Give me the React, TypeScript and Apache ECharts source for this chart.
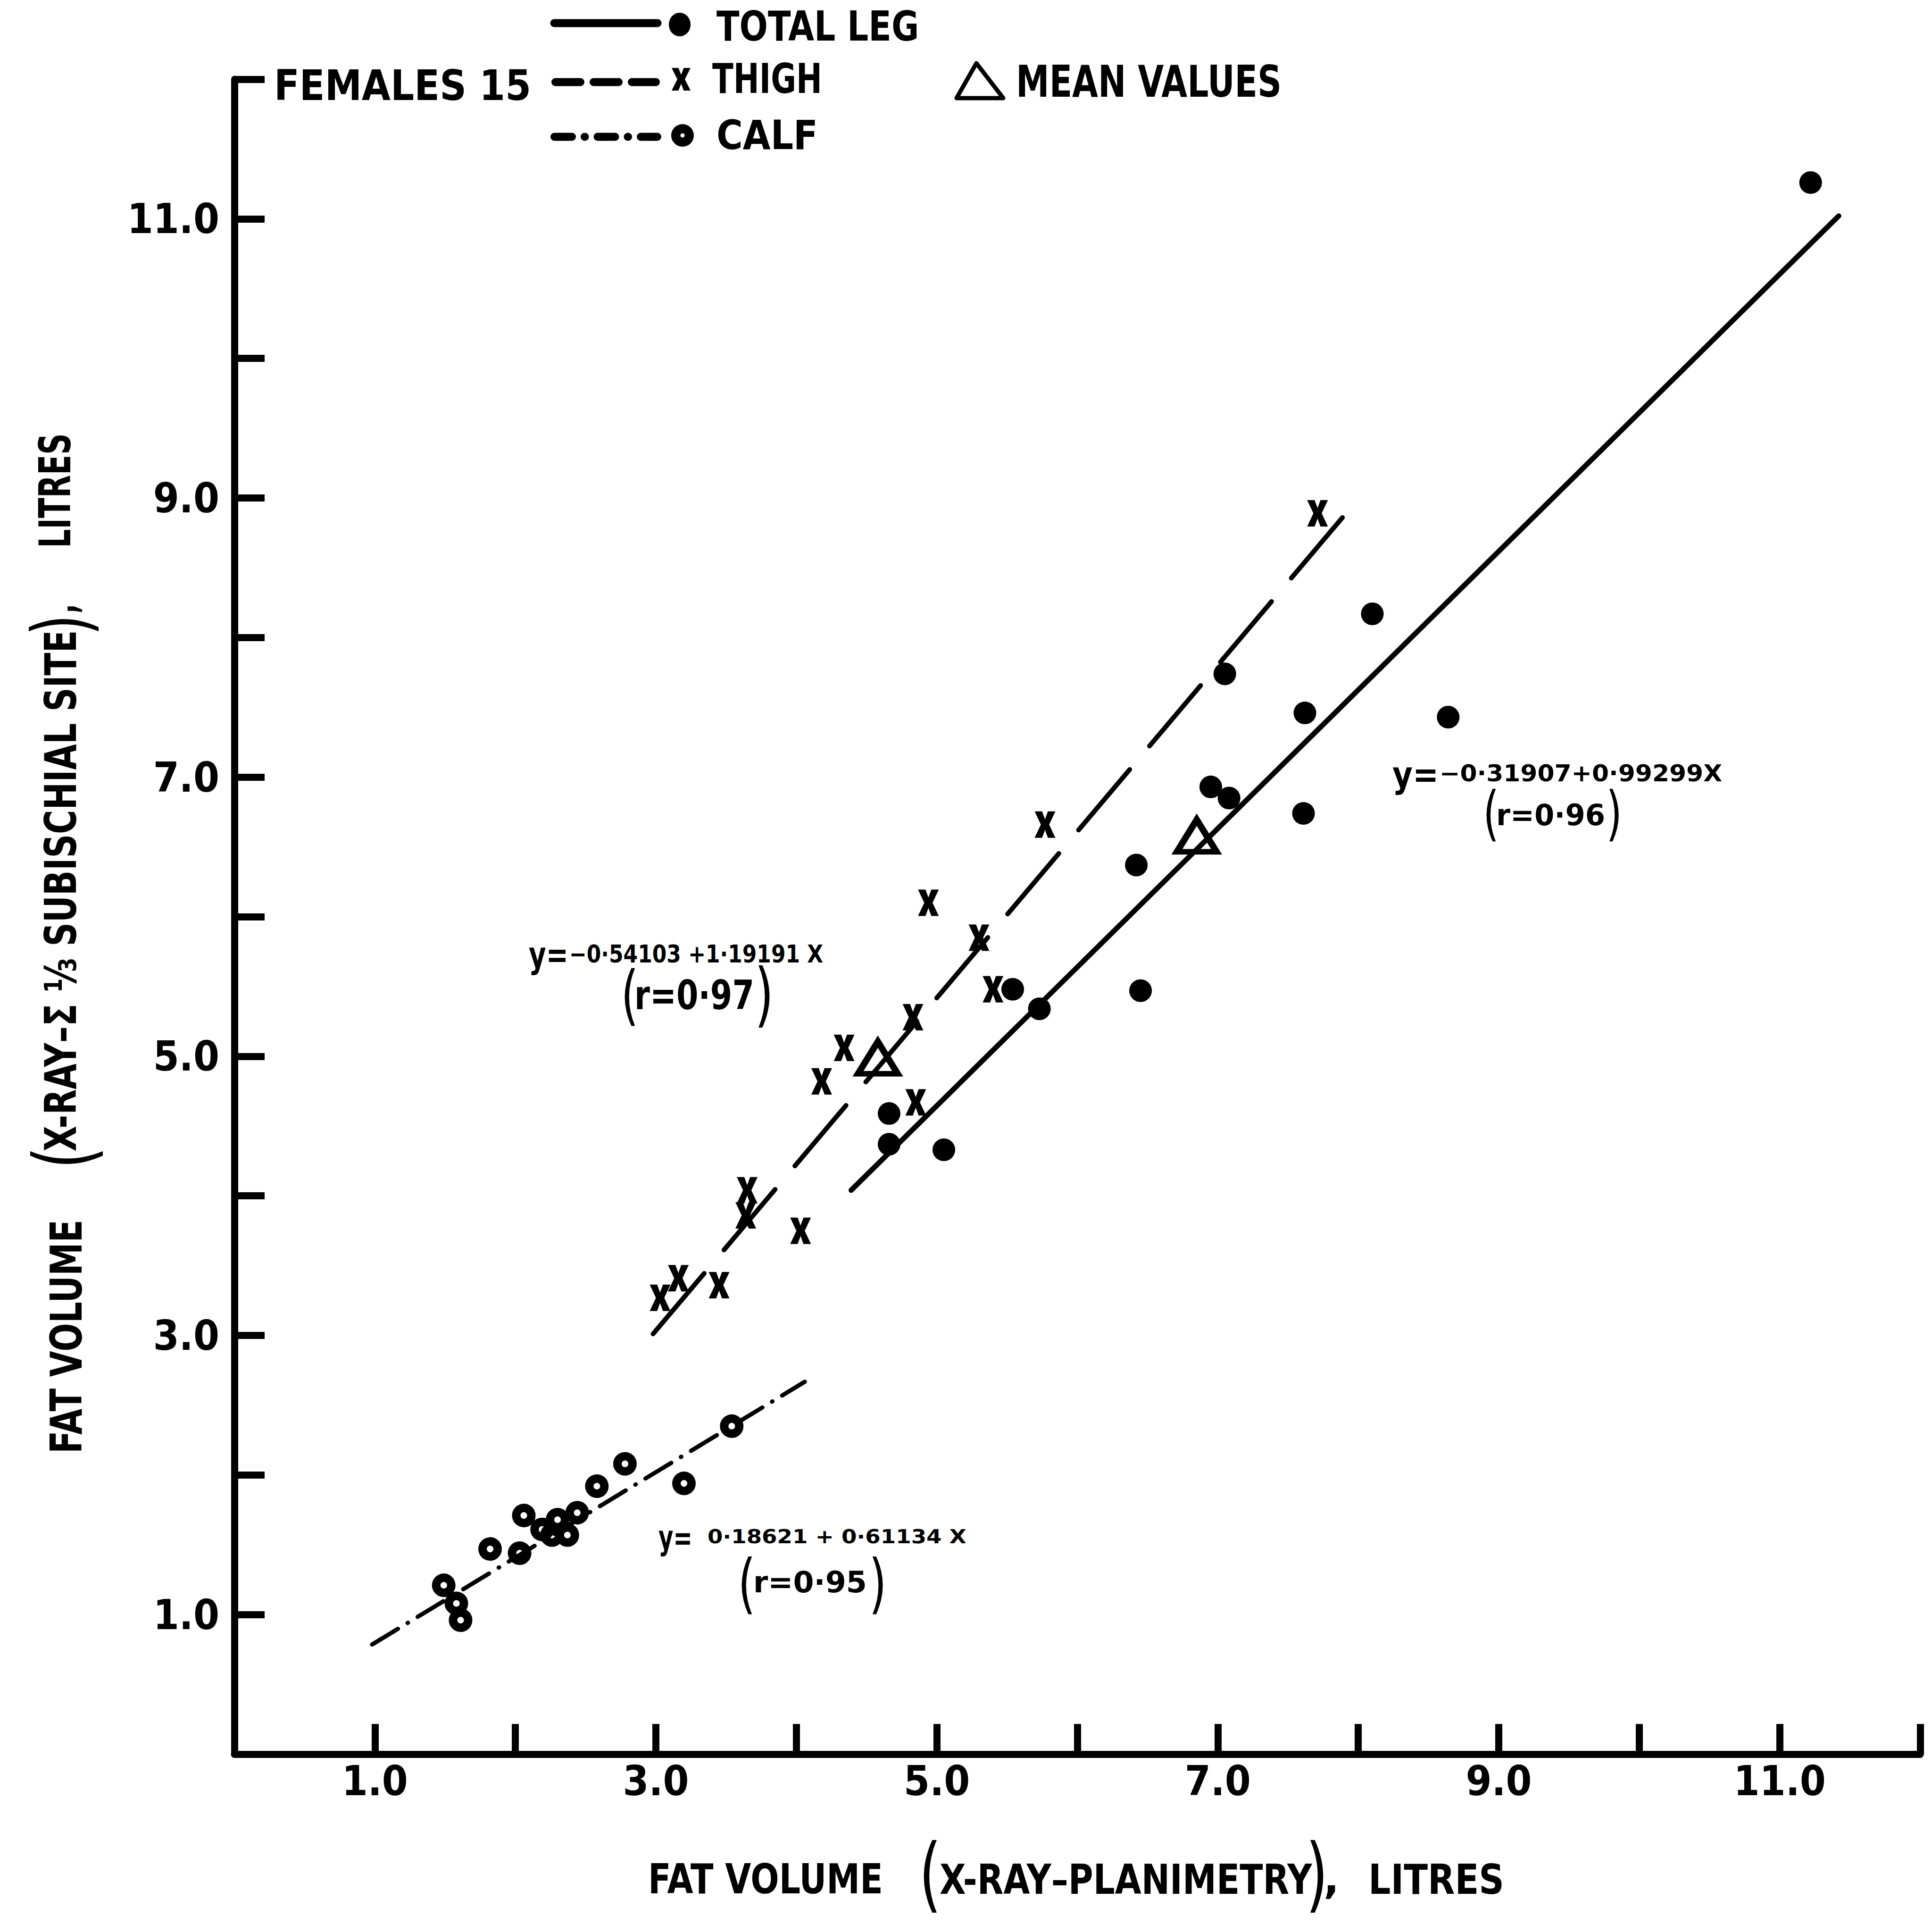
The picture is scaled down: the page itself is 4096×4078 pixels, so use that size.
import React, { useEffect, useRef } from "react";
import * as echarts from "echarts";

// Fat volume per subject: [x-ray planimetry, x-ray Σ⅓ subischial site], litres
const totalLeg: number[][] = [
  [11.22, 11.26], [8.10, 8.17], [7.05, 7.74], [7.62, 7.46], [8.64, 7.43],
  [6.95, 6.93], [7.08, 6.85], [7.61, 6.74], [6.42, 6.37], [6.45, 5.47],
  [5.54, 5.48], [5.73, 5.34], [4.66, 4.59], [4.66, 4.37], [5.05, 4.33],
];
const thigh: number[][] = [
  [7.71, 8.89], [5.77, 6.66], [4.94, 6.10], [5.30, 5.85], [4.83, 5.28],
  [5.40, 5.48], [4.34, 5.06], [4.18, 4.82], [4.85, 4.67], [3.65, 4.04],
  [3.64, 3.86], [4.03, 3.75], [3.45, 3.36], [3.16, 3.41], [3.03, 3.27],
];
const calf: number[][] = [
  [3.54, 2.35], [2.78, 2.08], [3.20, 1.94], [2.58, 1.92], [2.44, 1.73],
  [2.30, 1.68], [2.06, 1.71], [2.19, 1.61], [2.26, 1.57], [2.37, 1.57],
  [2.03, 1.44], [1.82, 1.47], [1.49, 1.21], [1.58, 1.08], [1.61, 0.96],
];
const meanValues: number[][] = [[4.58, 4.99], [6.85, 6.58]];

// Regression fits [intercept, slope] and the x-span each fitted line covers
const fitTotalLeg = [-0.31907, 0.99299];
const spanTotalLeg = [4.39, 11.42];
const fitThigh = [-0.54103, 1.19191];
const spanThigh = [2.98, 7.9];
const fitCalf = [0.18621, 0.61134];
const spanCalf = [0.98, 4.06];

// Axis tick labels (only odd values carry a label)
const xTickValues = [1, 3, 5, 7, 9, 11];
const xTickLabels = ["1.0", "3.0", "5.0", "7.0", "9.0", "11.0"];
const yTickValues = [1, 3, 5, 7, 9, 11];
const yTickLabels = ["1.0", "3.0", "5.0", "7.0", "9.0", "11.0"];

const FONT = '"DejaVu Sans", "Noto Sans", sans-serif';
const TICK_FONT = '"DejaVu Sans Condensed", "Liberation Sans Narrow", "DejaVu Sans", sans-serif';
const CAP = 0.729; // cap height of DejaVu Sans as a fraction of the em

let measureCtx: CanvasRenderingContext2D | null = null;
function textWidth(text: string, size: number, weight: string) {
  if (!measureCtx) measureCtx = document.createElement("canvas").getContext("2d");
  measureCtx!.font = `${weight} ${size}px "DejaVu Sans"`;
  return measureCtx!.measureText(text).width;
}

function textEl(text: string, x: number, y: number, fontSize: number, scaleX: number, align: string, rotation = 0, weight = "bold") {
  return {
    type: "text",
    x,
    y,
    rotation,
    scaleX,
    silent: true,
    style: {
      text,
      fontSize,
      fontWeight: weight,
      fontFamily: FONT,
      fill: "#000",
      align,
      verticalAlign: "middle",
    },
  };
}

// Bold lettering, left aligned, squeezed to a given width
function word(text: string, left: number, cy: number, cap: number, width?: number) {
  const fontSize = cap / CAP;
  const scaleX = width ? width / textWidth(text, fontSize, "bold") : 1;
  return textEl(text, left, cy, fontSize, scaleX, "left");
}

// Same, but sized by font size instead of cap height (for the lower-case "y=")
function wordPx(text: string, left: number, cy: number, fontSize: number, width: number) {
  return textEl(text, left, cy, fontSize, width / textWidth(text, fontSize, "bold"), "left");
}

// Bold lettering running bottom-to-top, centred on (cx, cy)
function wordUp(text: string, cx: number, cy: number, cap: number, length: number, align = "center") {
  const fontSize = cap / CAP;
  return textEl(text, cx, cy, fontSize, length / textWidth(text, fontSize, "bold"), align, Math.PI / 2);
}

// Tall thin bracket glyph
function paren(ch: string, cx: number, cy: number, height: number, rotation = 0) {
  return textEl(ch, cx, cy, height / 0.95, 0.7, "center", rotation, "normal");
}

const X_POINTS = [
  [0, 0], [36, 0], [50, 30], [64, 0], [100, 0], [70, 50],
  [100, 100], [64, 100], [50, 70], [36, 100], [0, 100], [30, 50],
];
const X_MARK = "path://M" + X_POINTS.map((p) => p.join(",")).join(" L") + " Z";

function xMarkPolygon(cx: number, cy: number, w: number, h: number) {
  const pts = X_POINTS.map(([px, py]) => [cx - w / 2 + (px / 100) * w, cy - h / 2 + (py / 100) * h]);
  return { type: "polygon", shape: { points: pts }, style: { fill: "#000" }, silent: true };
}

function fitLine(fit: number[], span: number[]) {
  return span.map((x) => [x, fit[0] + fit[1] * x]);
}

function labelFor(values: number[], labels: string[]) {
  return (v: number) => {
    const i = values.findIndex((t) => Math.abs(t - v) < 1e-6);
    return i >= 0 ? labels[i] : "";
  };
}

export default function App() {
  const ref = useRef<HTMLDivElement>(null);

  useEffect(() => {
    if (!ref.current) return;
    const chart = echarts.init(ref.current, null, { renderer: "svg" });

    const axisCommon = {
      type: "value",
      min: 0,
      max: 12,
      interval: 1,
      splitLine: { show: false },
      axisLine: { show: true, onZero: false, lineStyle: { color: "#000", width: 15 } },
      axisTick: { show: true, inside: true, length: 64, lineStyle: { color: "#000", width: 15 } },
    };
    const tickLabelStyle = {
      show: true,
      color: "#000",
      fontSize: 88,
      fontWeight: "bold",
      fontFamily: TICK_FONT,
    };

    const graphic: any[] = [
      // legend
      { type: "line", shape: { x1: 1175, y1: 49, x2: 1394, y2: 49 }, style: { stroke: "#000", lineWidth: 17, lineCap: "round" }, silent: true },
      { type: "ellipse", shape: { cx: 1441, cy: 52, rx: 23, ry: 25 }, style: { fill: "#000" }, silent: true },
      word("TOTAL LEG", 1519, 56, 64, 429),
      word("FEMALES 15", 581, 181, 65, 545),
      { type: "line", shape: { x1: 1177.5, y1: 174, x2: 1390.5, y2: 174 }, style: { stroke: "#000", lineWidth: 17, lineCap: "round", lineDash: [53, 28] }, silent: true },
      xMarkPolygon(1444, 168, 40, 48),
      word("THIGH", 1510, 166, 64, 233),
      { type: "polygon", shape: { points: [[2070, 134], [2127, 208], [2028, 208]] }, style: { fill: "none", stroke: "#000", lineWidth: 9, lineJoin: "round" }, silent: true },
      word("MEAN VALUES", 2154, 173, 68, 563),
      { type: "line", shape: { x1: 1175.5, y1: 290, x2: 1393.5, y2: 290 }, style: { stroke: "#000", lineWidth: 17, lineCap: "round", lineDash: [37, 27, 0.5, 27] }, silent: true },
      { type: "circle", shape: { cx: 1447, cy: 287, r: 14.25 }, style: { fill: "none", stroke: "#000", lineWidth: 19.5 }, silent: true },
      word("CALF", 1519, 286, 62, 215),

      // x axis title
      word("FAT VOLUME", 1374, 3983, 64, 498),
      paren("(", 1972, 3972, 165),
      word("X-RAY–PLANIMETRY", 1992, 3983, 64, 790),
      paren(")", 2792, 3972, 165),
      word(",", 2806, 3983, 64),
      word("LITRES", 2901, 3983, 64, 288),

      // y axis title
      wordUp("FAT VOLUME", 141, 2833, 67, 496),
      paren("(", 136, 2454, 164, Math.PI / 2),
      wordUp("X-RAY–Σ ⅓ SUBISCHIAL SITE", 129, 1888, 67, 1105),
      paren(")", 130, 1325, 157, Math.PI / 2),
      wordUp(",", 129, 1300, 67, 20, "left"),
      wordUp("LITRES", 117, 1040, 67, 243),

      // thigh fit
      wordPx("y=", 1121, 2024, 76, 84),
      word("−0·54103 +1·19191 X", 1207, 2022, 38, 538),
      paren("(", 1335, 2108, 131),
      word("r=0·97", 1345, 2110, 62, 254),
      paren(")", 1620, 2108, 140),

      // total leg fit
      wordPx("y=", 2952, 1642, 76, 98),
      word("−0·31907+0·99299X", 3052, 1639, 36, 599),
      paren("(", 3161, 1724, 119),
      word("r=0·96", 3172, 1727, 46, 231),
      paren(")", 3422, 1724, 119),

      // calf fit
      wordPx("y=", 1396, 3259, 72, 72),
      word("0·18621 + 0·61134 X", 1500, 3257, 30, 549),
      paren("(", 1583, 3355, 131),
      word("r=0·95", 1597, 3354, 45, 241),
      paren(")", 1861, 3355, 131),
    ];

    chart.setOption({
      animation: false,
      backgroundColor: "#fff",
      grid: { left: 497, right: 25, top: 168, bottom: 360, containLabel: false },
      xAxis: {
        ...axisCommon,
        axisLabel: { ...tickLabelStyle, margin: 12, formatter: labelFor(xTickValues, xTickLabels) },
      },
      yAxis: {
        ...axisCommon,
        axisLabel: { ...tickLabelStyle, margin: 32, formatter: labelFor(yTickValues, yTickLabels) },
      },
      series: [
        {
          name: "TOTAL LEG fit",
          type: "line",
          data: fitLine(fitTotalLeg, spanTotalLeg),
          showSymbol: false,
          lineStyle: { color: "#000", width: 11, cap: "round", opacity: 1 },
        },
        {
          name: "THIGH fit",
          type: "line",
          data: fitLine(fitThigh, spanThigh),
          showSymbol: false,
          lineStyle: { color: "#000", width: 10, type: [168, 65], cap: "round", opacity: 1 },
        },
        {
          name: "CALF fit",
          type: "line",
          data: fitLine(fitCalf, spanCalf),
          showSymbol: false,
          lineStyle: { color: "#000", width: 9, type: [64, 24, 1, 24], cap: "round", opacity: 1 },
        },
        {
          name: "TOTAL LEG",
          type: "scatter",
          data: totalLeg,
          symbol: "circle",
          symbolSize: 48,
          itemStyle: { color: "#000", opacity: 1 },
        },
        {
          name: "THIGH",
          type: "scatter",
          data: thigh,
          symbol: X_MARK,
          symbolSize: [44, 56],
          itemStyle: { color: "#000", opacity: 1 },
        },
        {
          name: "CALF",
          type: "scatter",
          data: calf,
          symbol: "circle",
          symbolSize: 32,
          itemStyle: { color: "rgba(255,255,255,0)", borderColor: "#000", borderWidth: 18, opacity: 1 },
        },
        {
          name: "MEAN VALUES",
          type: "scatter",
          data: meanValues,
          symbol: "triangle",
          symbolSize: [84, 68],
          itemStyle: { color: "rgba(255,255,255,0)", borderColor: "#000", borderWidth: 13, opacity: 1 },
        },
      ],
      graphic,
    });

    return () => chart.dispose();
  }, []);

  return (
    <div
      ref={ref}
      style={{ position: "absolute", left: 0, top: 0, width: 4096, height: 4078, background: "#fff" }}
    />
  );
}
